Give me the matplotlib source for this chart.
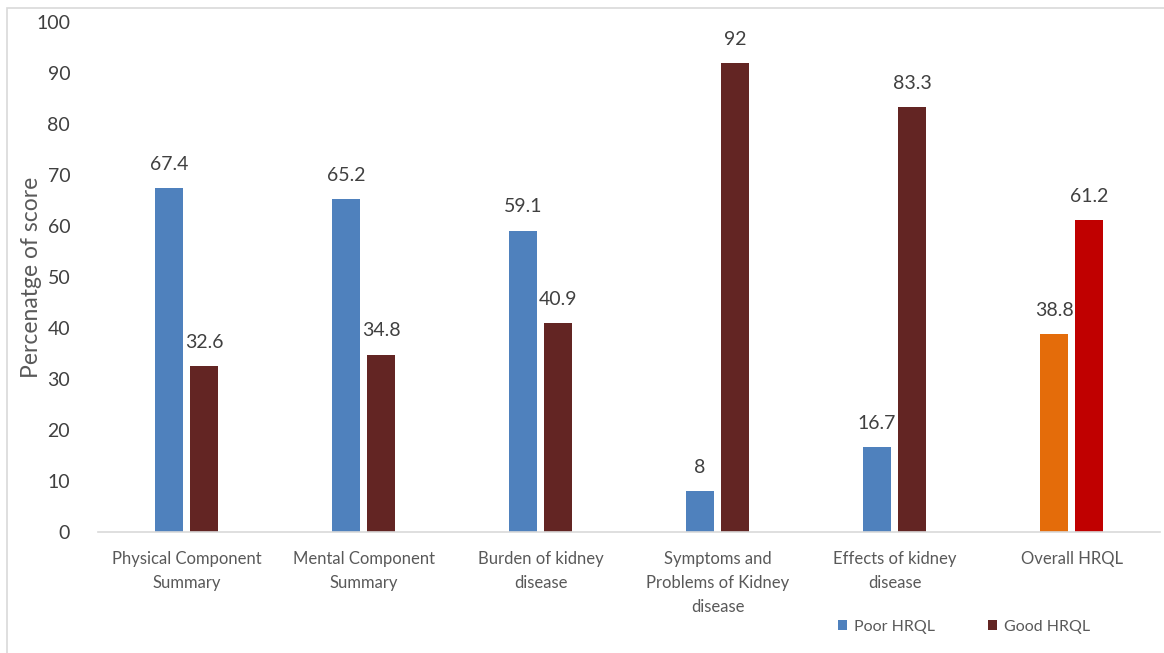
import numpy as np
import matplotlib.pyplot as plt
from matplotlib.patches import Rectangle

plt.rcParams['font.family'] = ['Lato', 'DejaVu Sans']

categories = ['Physical Component\nSummary', 'Mental Component\nSummary',
              'Burden of kidney\ndisease', 'Symptoms and\nProblems of Kidney\ndisease',
              'Effects of kidney\ndisease', 'Overall HRQL']
poor = [67.4, 65.2, 59.1, 8, 16.7, 38.8]
good = [32.6, 34.8, 40.9, 92, 83.3, 61.2]
labels_poor = ['67.4', '65.2', '59.1', '8', '16.7', '38.8']
labels_good = ['32.6', '34.8', '40.9', '92', '83.3', '61.2']

poor_colors = ['#4F81BD'] * 5 + ['#E46C0A']
good_colors = ['#632523'] * 5 + ['#C00000']
text_col = '#595959'

fig = plt.figure(figsize=(11.64, 6.53), dpi=100)
ax = fig.add_axes([0.0842, 0.1853, 0.9124, 0.781])

x = np.arange(len(categories))
w = 0.158
off = 0.099
b1 = ax.bar(x - off, poor, w, color=poor_colors, label='Poor HRQL')
b2 = ax.bar(x + off, good, w, color=good_colors, label='Good HRQL')

for xi, v, s in zip(x - off, poor, labels_poor):
    ax.annotate(s, (xi, v), xytext=(0, 17), textcoords='offset points',
                ha='center', va='center', fontsize=14, color='#404040')
for xi, v, s in zip(x + off, good, labels_good):
    ax.annotate(s, (xi, v), xytext=(0, 17), textcoords='offset points',
                ha='center', va='center', fontsize=14, color='#404040')

ax.set_xlim(-0.5, len(categories) - 0.5)
ax.set_ylim(0, 100)
ax.set_yticks(range(0, 101, 10))
ax.set_xticks(x)
ax.set_xticklabels(categories, fontsize=12, color=text_col, linespacing=1.6)
ax.tick_params(axis='x', length=0, pad=14)
ax.tick_params(axis='y', length=0, pad=20, labelsize=14, labelcolor='#404040')
for s in ['top', 'right', 'left']:
    ax.spines[s].set_visible(False)
ax.spines['bottom'].set_color('#D9D9D9')
ax.spines['bottom'].set_linewidth(1.2)
ax.set_ylabel('Percenatge of score', fontsize=16.5, color=text_col)
ax.yaxis.set_label_coords(-0.053, 0.5)

leg = fig.legend(handles=[b1[0], b2[0]], labels=['Poor HRQL', 'Good HRQL'],
                 loc='center', bbox_to_anchor=(0.828, 0.04), ncol=2, frameon=False,
                 fontsize=11.5, handlelength=0.6, handleheight=0.6,
                 handletextpad=0.4, columnspacing=3.3)
for t in leg.get_texts():
    t.set_color(text_col)

fig.patches.append(Rectangle((0.006, -0.01), 1.0, 0.998, transform=fig.transFigure,
                             fill=False, edgecolor='#D9D9D9', linewidth=1.2))

fig.savefig('out.png', dpi=100)
